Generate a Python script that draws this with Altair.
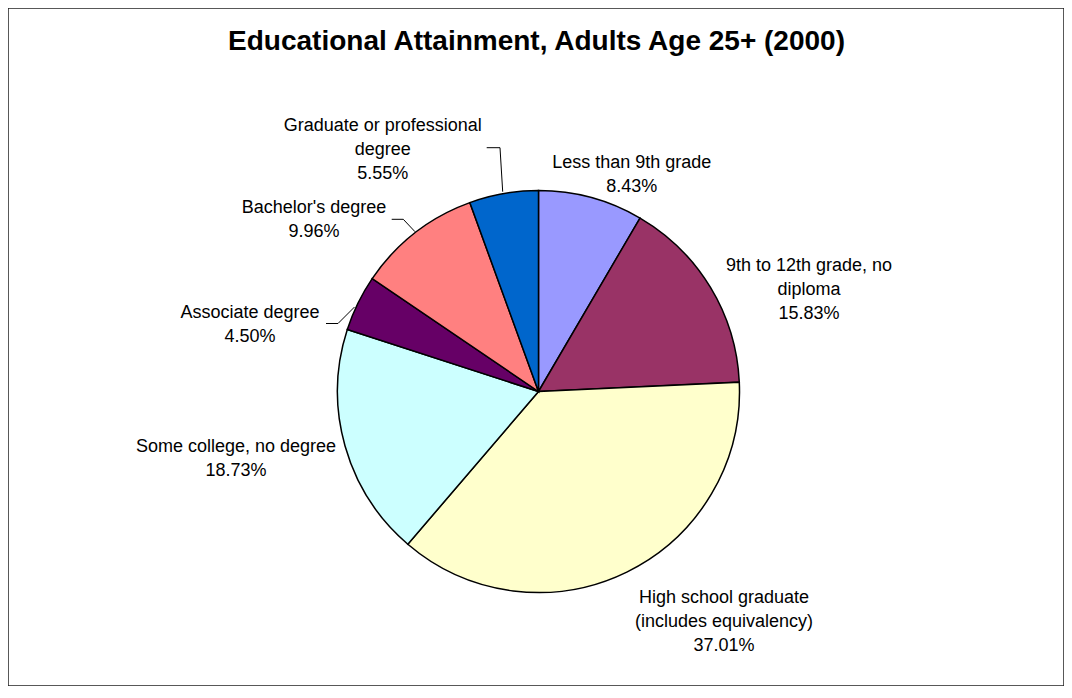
import altair as alt
import pandas as pd

# ---- data ----
categories = [
    "Less than 9th grade",
    "9th to 12th grade, no diploma",
    "High school graduate (includes equivalency)",
    "Some college, no degree",
    "Associate degree",
    "Bachelor's degree",
    "Graduate or professional degree",
]
shares = [8.43, 15.83, 37.01, 18.73, 4.50, 9.96, 5.55]
label_lines = [
    ["Less than 9th grade"],
    ["9th to 12th grade, no", "diploma"],
    ["High school graduate", "(includes equivalency)"],
    ["Some college, no degree"],
    ["Associate degree"],
    ["Bachelor's degree"],
    ["Graduate or professional", "degree"],
]
colors = ["#9999FF", "#993366", "#FFFFCC", "#CCFFFF", "#660066", "#FF8080", "#0066CC"]
title_text = "Educational Attainment, Adults Age 25+ (2000)"

df = pd.DataFrame({"category": categories, "share": shares, "idx": list(range(len(categories)))})

# ---- layout ----
W, H = 1056, 678
CX, CY, R = 530.5, 383.5, 201
FONT = "Liberation Sans"
label_pos = [  # (center x, first baseline y)
    (623.7, 159.7),
    (801, 262.5),
    (716, 595.3),
    (228, 443.7),
    (242, 309.8),
    (306, 205.3),
    (374.7, 122.7),
]
leaders = [
    (478.7, 139.7, 492, 139.7), (492, 139.7, 494.7, 183.7),
    (383.7, 211.3, 395.3, 211.3), (395.3, 211.3, 407, 223.7),
    (318, 315.5, 330, 315.5), (330, 315.5, 346.5, 299),
]

pie = alt.Chart(df).mark_arc(radius=R, stroke="black", strokeWidth=1.5).encode(
    theta=alt.Theta("share:Q", stack=True),
    order=alt.Order("idx:Q"),
    color=alt.Color("category:N", scale=alt.Scale(domain=categories, range=colors), legend=None),
    x=alt.value(CX),
    y=alt.value(CY),
)

layers = [pie]
for i, (lx, ly) in enumerate(label_pos):
    lines = label_lines[i] + [f"{shares[i]:.2f}%"]
    layers.append(
        alt.Chart(alt.Data(values=[{}])).mark_text(
            font=FONT, fontSize=18, lineHeight=24, align="center", baseline="alphabetic", color="black"
        ).encode(text=alt.value(lines), x=alt.value(lx), y=alt.value(ly))
    )

for (x1, y1, x2, y2) in leaders:
    layers.append(
        alt.Chart(alt.Data(values=[{}])).mark_rule(color="black", strokeWidth=1).encode(
            x=alt.value(x1), y=alt.value(y1), x2=alt.value(x2), y2=alt.value(y2)
        )
    )

layers.append(
    alt.Chart(alt.Data(values=[{}])).mark_text(
        font=FONT, fontSize=28, fontWeight="bold", align="center", baseline="alphabetic", color="black"
    ).encode(text=alt.value(title_text), x=alt.value(528.5), y=alt.value(42))
)

chart = alt.layer(*layers).properties(
    width=W, height=H, padding=0,
    autosize=alt.AutoSizeParams(type="fit", contains="padding"),
).configure(
    background="white",
    view=alt.ViewConfig(stroke="#222222", strokeWidth=1.5),
)

chart.save("out.html", embed_options={"renderer": "svg", "actions": False})
